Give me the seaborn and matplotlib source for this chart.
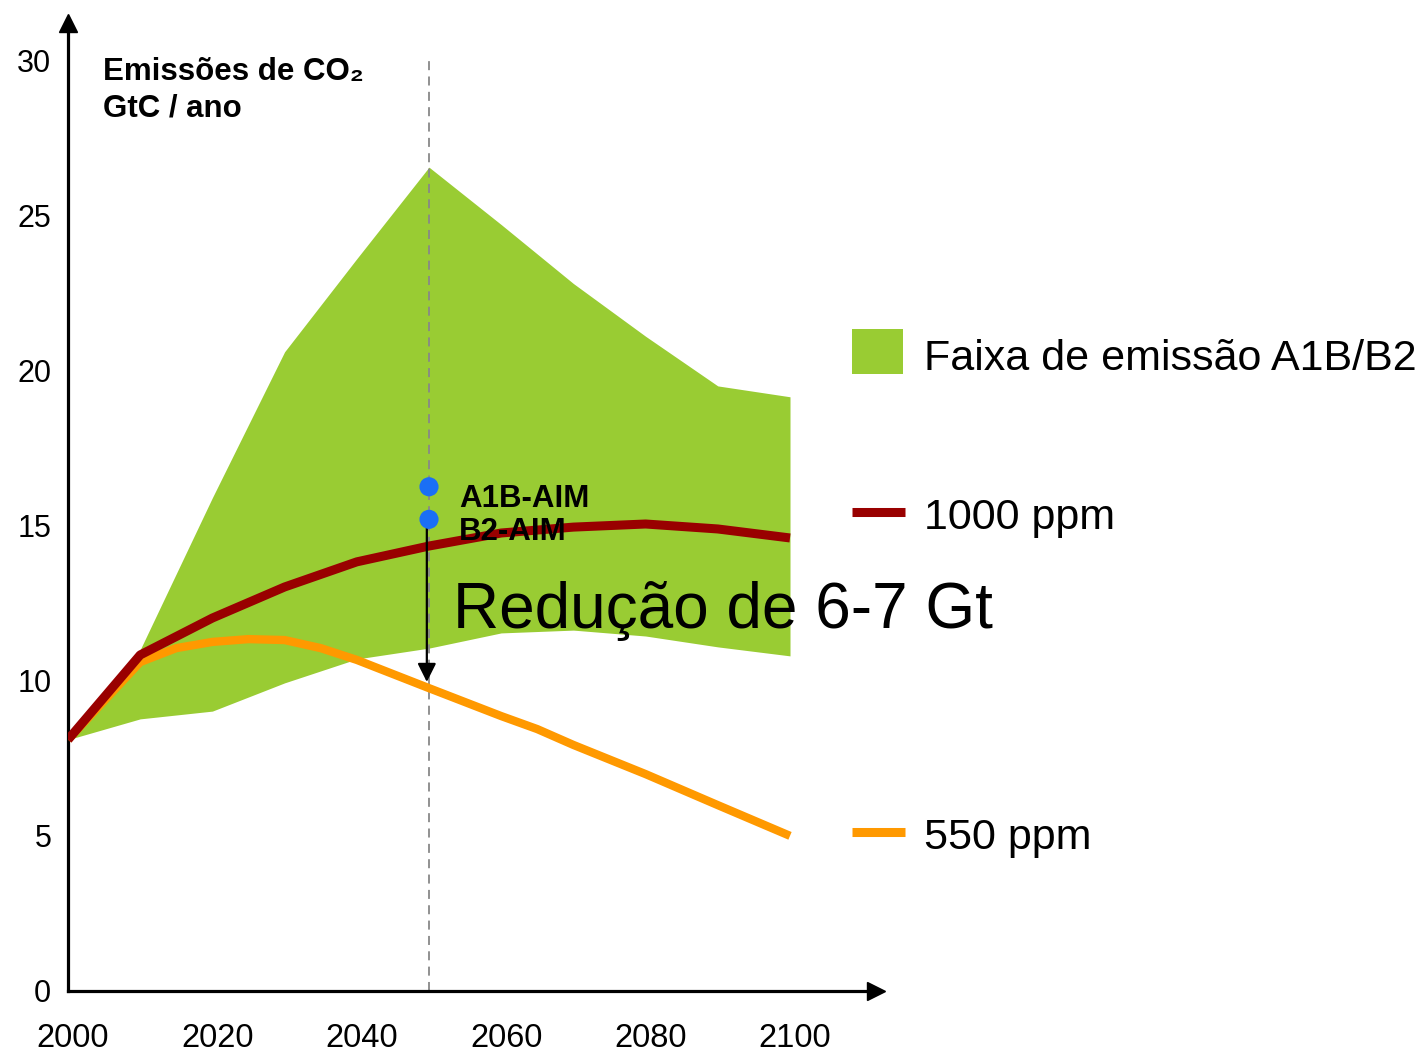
import matplotlib
matplotlib.use("Agg")
import matplotlib.pyplot as plt
import matplotlib.transforms as mtransforms
from matplotlib.patches import Rectangle
from matplotlib.lines import Line2D
import seaborn as sns
import pandas as pd

# ---------------- data ----------------
years_band = [2000, 2010, 2020, 2030, 2040, 2050, 2060, 2070, 2080, 2090, 2100]
band_upper = [8.1, 11.0, 15.9, 20.6, 23.6, 26.55, 24.7, 22.8, 21.1, 19.5, 19.15]
band_lower = [8.1, 8.77, 9.02, 9.93, 10.7, 11.05, 11.54, 11.63, 11.44, 11.09, 10.8]

years_1000 = [2000, 2010, 2020, 2030, 2040, 2050, 2060, 2070, 2080, 2090, 2100]
ppm1000 = [8.1, 10.83, 12.02, 13.02, 13.83, 14.34, 14.76, 14.95, 15.05, 14.89, 14.6]

years_550 = [2000, 2010, 2015, 2020, 2025, 2030, 2035, 2040, 2050, 2060, 2065, 2070, 2080, 2090, 2100]
ppm550 = [8.1, 10.6, 11.05, 11.25, 11.34, 11.31, 11.05, 10.67, 9.76, 8.86, 8.44, 7.93, 6.99, 5.99, 5.0]

point_labels = ["A1B-AIM", "B2-AIM"]
point_years = [2050, 2050]
point_values = [16.25, 15.2]

ref_year = 2050
arrow_end = 9.96

x_ticks = [2000, 2020, 2040, 2060, 2080, 2100]
y_ticks = [0, 5, 10, 15, 20, 25, 30]

legend_labels = ["Faixa de emissão A1B/B2", "1000 ppm", "550 ppm"]

GREEN = "#99cc33"
RED = "#990000"
ORANGE = "#ff9900"
BLUE = "#1a6ff5"

# ---------------- style ----------------
sns.set_theme(style="white")
plt.rcParams["font.family"] = ["Liberation Sans", "DejaVu Sans"]
plt.rcParams["text.color"] = "black"

fig = plt.figure(figsize=(14.19, 10.52), dpi=100)
ax = fig.add_axes([68 / 1419, 61 / 1052, (876 - 68) / 1419, (991 - 23) / 1052])

# band
ax.fill_between(years_band, band_lower, band_upper, color=GREEN, lw=0, zorder=1)

# reference dashed line
ax.plot([ref_year, ref_year], [0, 30.1], color="#888888", lw=1.3,
        dashes=(5, 3.5), zorder=2)

# lines
df550 = pd.DataFrame({"ano": years_550, "emissao": ppm550})
df1000 = pd.DataFrame({"ano": years_1000, "emissao": ppm1000})
sns.lineplot(data=df550, x="ano", y="emissao", color=ORANGE, lw=6,
             ax=ax, zorder=3, solid_capstyle="butt")
sns.lineplot(data=df1000, x="ano", y="emissao", color=RED, lw=6.5,
             ax=ax, zorder=4, solid_capstyle="butt")

# arrow
ax.annotate("", xy=(ref_year - 0.3, arrow_end), xytext=(ref_year - 0.3, point_values[1]),
            arrowprops=dict(arrowstyle="-|>", color="black", lw=1.6,
                            mutation_scale=28, shrinkA=0, shrinkB=0),
            zorder=5)

# points
dfp = pd.DataFrame({"ano": point_years, "v": point_values, "lab": point_labels})
sns.scatterplot(data=dfp, x="ano", y="v", color=BLUE, s=190, edgecolor="none",
                ax=ax, zorder=6, legend=False)
label_y = [15.6, 14.53]
for lab, yv in zip(point_labels, label_y):
    ax.text(2054.2, yv, lab, fontsize=22.5, fontweight="bold", va="baseline",
            ha="left", color="black", zorder=7)

ax.text(2053.3, 11.7, "Redução de 6-7 Gt", fontsize=46, va="baseline",
        ha="left", color="black", zorder=7)

# title
ax.text(2004.85, 29.36, "Emissões de CO₂", fontsize=22.5, fontweight="bold",
        va="baseline", ha="left", color="black", zorder=7)
ax.text(2004.85, 28.17, "GtC / ano", fontsize=22.5, fontweight="bold",
        va="baseline", ha="left", color="black", zorder=7)

# axes
ax.set_xlim(2000, 2000 + (876 - 68) / 7.22)
ax.set_ylim(0, (991 - 23) / 31.03)
ax.set_xticks(x_ticks)
ax.set_yticks(y_ticks)
ax.set_xlabel("")
ax.set_ylabel("")
for s in ["top", "right"]:
    ax.spines[s].set_visible(False)
for s in ["left", "bottom"]:
    ax.spines[s].set_linewidth(2.3)
    ax.spines[s].set_color("black")
ax.tick_params(axis="both", direction="out", length=6, width=2.3, colors="black",
               labelcolor="black")
ax.tick_params(axis="x", pad=17, labelsize=23.5)
ax.tick_params(axis="y", pad=6, labelsize=22)
ax.set_facecolor("white")

# shift x tick labels slightly right as in the reference
offset = mtransforms.ScaledTranslation(5 / 100, 0, fig.dpi_scale_trans)
for lbl in ax.get_xticklabels():
    lbl.set_transform(lbl.get_transform() + offset)

# arrow heads on axes
ax.plot(1, 0, marker=">", color="black", markersize=13, transform=ax.transAxes,
        clip_on=False, zorder=8)
ax.plot(0, 1, marker="^", color="black", markersize=13, transform=ax.transAxes,
        clip_on=False, zorder=8)

# manual legend
fig.patches.append(Rectangle((852 / 1419, (1052 - 374) / 1052), 51 / 1419, 45 / 1052,
                             transform=fig.transFigure, color=GREEN, lw=0))
fig.lines.append(Line2D([852 / 1419, 905 / 1419], [(1052 - 512) / 1052] * 2,
                        transform=fig.transFigure, color=RED, lw=6.5,
                        solid_capstyle="butt"))
fig.lines.append(Line2D([852 / 1419, 905 / 1419], [(1052 - 832) / 1052] * 2,
                        transform=fig.transFigure, color=ORANGE, lw=6.5,
                        solid_capstyle="butt"))
for lab, ybase in zip(legend_labels, [370, 529, 849]):
    fig.text(924 / 1419, (1052 - ybase) / 1052, lab, fontsize=31,
             va="baseline", ha="left", color="black")

fig.savefig("out.png", dpi=100, facecolor="white")
